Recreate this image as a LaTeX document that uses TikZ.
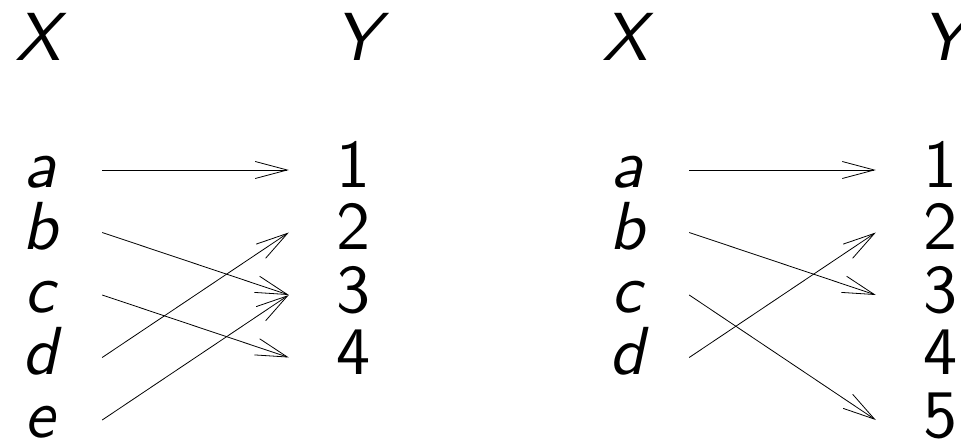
\documentclass[tikz,border=0pt]{standalone}
\usepackage{fontspec}
\setsansfont{lmsans10-regular.otf}[ItalicFont=lmsans10-oblique.otf]
\usetikzlibrary{arrows.meta}
\begin{document}
\begin{tikzpicture}[x=1pt,y=-1pt,
  lbl/.style={font=\fontsize{68}{74}\selectfont\sffamily, inner sep=0pt, anchor=base, text height=40pt, text depth=6pt},
  src/.style={lbl, minimum width=124pt, font=\fontsize{68}{74}\selectfont\sffamily\itshape},
  dst/.style={lbl, minimum width=128pt},
  head/.style={lbl, font=\fontsize{68}{74}\selectfont\sffamily\itshape},
  map/.style={line width=0.8pt, -{Straight Barb[length=32pt,width=17pt]}}]
\useasboundingbox (0,0) rectangle (961,441);
% left diagram
\node[head] (XL) at (38,61) {X};
\node[head] (YL) at (357,61) {Y};
\node[src] (aL) at (40,187) {a};
\node[src] (bL) at (40,249.5) {b};
\node[src] (cL) at (40,312) {c};
\node[src] (dL) at (40,374.5) {d};
\node[src] (eL) at (40,437) {e};
\node[dst] (n1L) at (353,187) {1};
\node[dst] (n2L) at (353,249.5) {2};
\node[dst] (n3L) at (353,312) {3};
\node[dst] (n4L) at (353,374.5) {4};
\draw[map] (aL.east) -- (n1L.west);
\draw[map] (bL.east) -- (n3L.west);
\draw[map] (cL.east) -- (n4L.west);
\draw[map] (dL.east) -- (n2L.west);
\draw[map] (eL.east) -- (n3L.west);
% right diagram
\node[head] (XR) at (625,61) {X};
\node[head] (YR) at (944,61) {Y};
\node[src] (aR) at (627,187) {a};
\node[src] (bR) at (627,249.5) {b};
\node[src] (cR) at (627,312) {c};
\node[src] (dR) at (627,374.5) {d};
\node[dst] (n1R) at (940,187) {1};
\node[dst] (n2R) at (940,249.5) {2};
\node[dst] (n3R) at (940,312) {3};
\node[dst] (n4R) at (940,374.5) {4};
\node[dst] (n5R) at (940,437) {5};
\draw[map] (aR.east) -- (n1R.west);
\draw[map] (bR.east) -- (n3R.west);
\draw[map] (cR.east) -- (n5R.west);
\draw[map] (dR.east) -- (n2R.west);
\end{tikzpicture}
\end{document}
